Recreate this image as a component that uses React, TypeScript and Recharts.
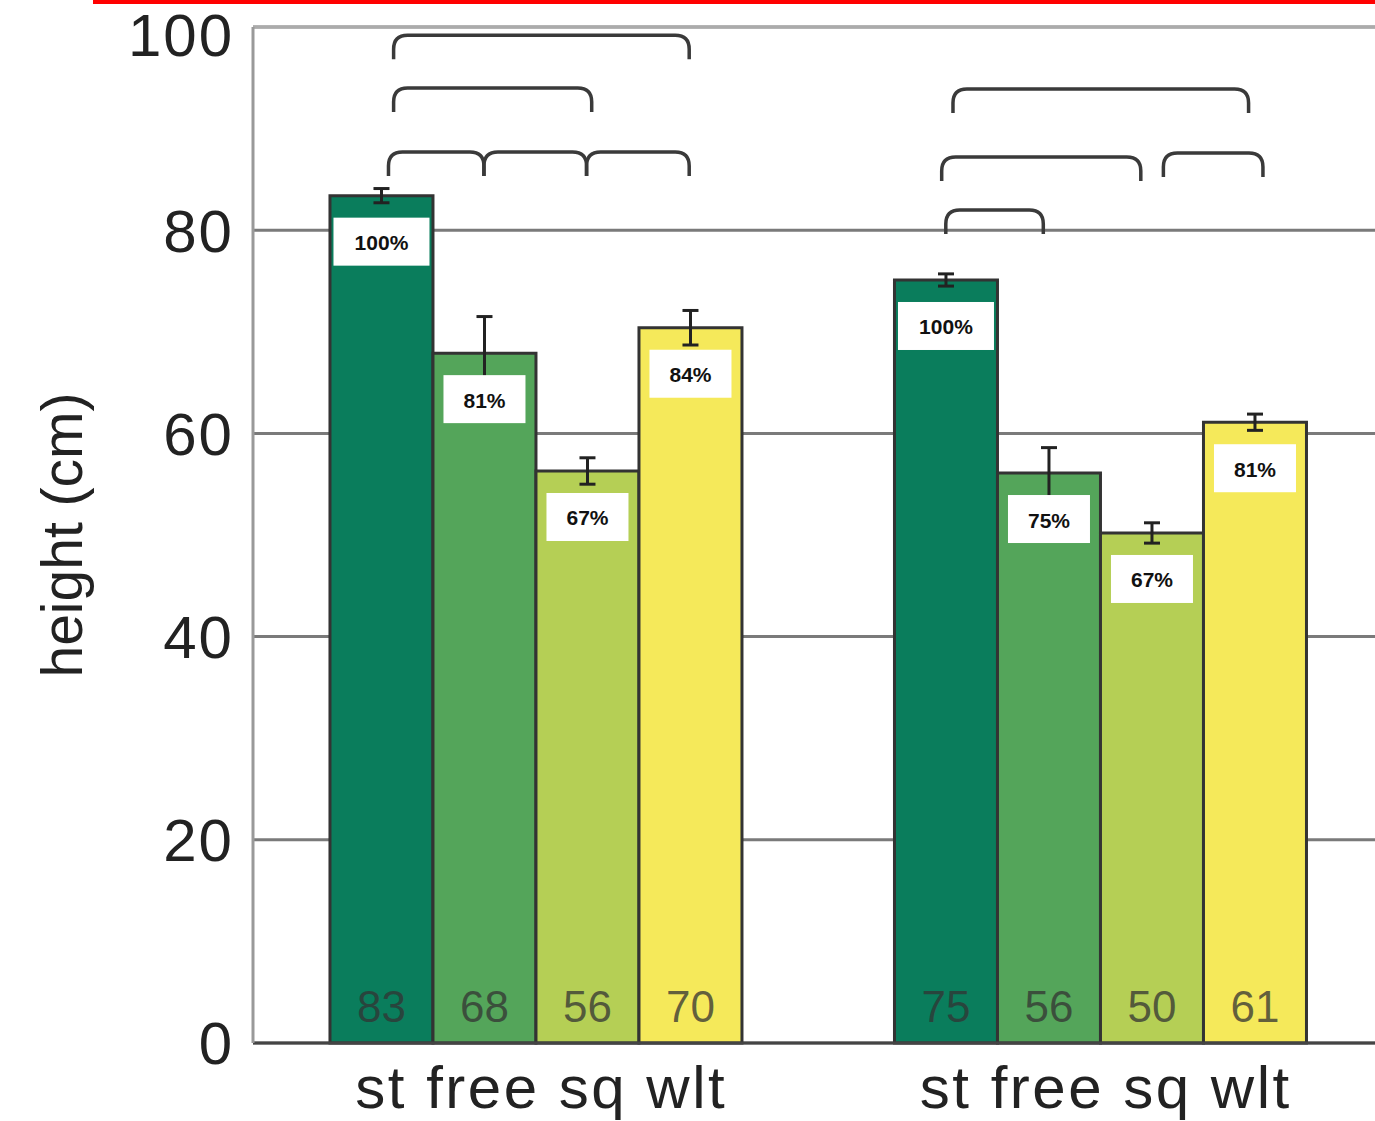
import { BarChart, Bar, XAxis, YAxis, CartesianGrid, ErrorBar, LabelList, ReferenceLine } from 'recharts';

const groupLabels = ['st free sq wlt', 'st free sq wlt'];
const treatments = ['st', 'free', 'sq', 'wlt'];

// mean height (cm) per group
const stHeight = [83.4, 75.1];
const freeHeight = [67.9, 56.1];
const sqHeight = [56.3, 50.2];
const wltHeight = [70.4, 61.1];

// error (± cm)
const stErr = [0.7, 0.6];
const freeErr = [3.6, 2.5];
const sqErr = [1.3, 1.0];
const wltErr = [1.7, 0.8];

// numbers printed at the bottom of the bars
const stShown = ['83', '75'];
const freeShown = ['68', '56'];
const sqShown = ['56', '50'];
const wltShown = ['70', '61'];

// relative to st
const stPct = ['100%', '100%'];
const freePct = ['81%', '75%'];
const sqPct = ['67%', '67%'];
const wltPct = ['84%', '81%'];

const yTicks = [0, 20, 40, 60, 80, 100];

// significance brackets: group, from/to bar index (0 = st .. 3 = wlt), height in cm
const brackets = [
  { group: 0, from: 0.12, to: 3.0, y: 99.2 },
  { group: 0, from: 0.12, to: 2.05, y: 94.0 },
  { group: 0, from: 0.07, to: 1.0, y: 87.7 },
  { group: 0, from: 1.0, to: 2.0, y: 87.7 },
  { group: 0, from: 2.0, to: 3.0, y: 87.7 },
  { group: 1, from: 0.07, to: 2.95, y: 93.9 },
  { group: 1, from: -0.04, to: 1.9, y: 87.2 },
  { group: 1, from: 2.12, to: 3.09, y: 87.6 },
  { group: 1, from: 0.0, to: 0.95, y: 82.0 },
];

const heights: Record<string, number[]> = { st: stHeight, free: freeHeight, sq: sqHeight, wlt: wltHeight };
const errs: Record<string, number[]> = { st: stErr, free: freeErr, sq: sqErr, wlt: wltErr };
const shown: Record<string, string[]> = { st: stShown, free: freeShown, sq: sqShown, wlt: wltShown };
const pcts: Record<string, string[]> = { st: stPct, free: freePct, sq: sqPct, wlt: wltPct };

const colors: Record<string, string> = {
  st: '#0a7d5c',
  free: '#54a55a',
  sq: '#b5cf55',
  wlt: '#f5e95a',
};

const FONT = '"Liberation Sans", Arial, Helvetica, sans-serif';

// gap on each side of a group, measured in bar widths
const SIDE_GAP = 0.75;
const GROUP_SPAN = treatments.length + 2 * SIDE_GAP;
const slotX = (group: number, idx: number) => group * GROUP_SPAN + SIDE_GAP + idx + 0.5;

const data = groupLabels.map((label, i) => {
  const row: Record<string, string | number> = { label, pos: slotX(i, 1.5) };
  treatments.forEach((t) => {
    row[t] = heights[t][i];
    row[`${t}Err`] = errs[t][i];
    row[`${t}Shown`] = shown[t][i];
    row[`${t}Pct`] = pcts[t][i];
  });
  return row;
});

const renderPct = (props: any) => {
  const x = Number(props.x);
  const y = Number(props.y);
  const width = Number(props.width);
  const value = String(props.value);
  const w = value.length > 3 ? 96 : 82;
  const cx = x + width / 2;
  const top = y + 22;
  return (
    <g>
      <rect x={cx - w / 2} y={top} width={w} height={48} fill="#ffffff" />
      <text
        x={cx}
        y={top + 25}
        textAnchor="middle"
        dominantBaseline="central"
        fontSize={21}
        fontWeight="bold"
        fontFamily={FONT}
        fill="#111"
      >
        {value}
      </text>
    </g>
  );
};

const renderShown = (props: any) => {
  const x = Number(props.x);
  const y = Number(props.y);
  const width = Number(props.width);
  const height = Number(props.height);
  return (
    <text
      x={x + width / 2}
      y={y + height - 37}
      textAnchor="middle"
      dominantBaseline="central"
      fontSize={44}
      fontFamily={FONT}
      fill="#333"
      fillOpacity={0.75}
    >
      {props.value}
    </text>
  );
};

const bracketShape = (props: any) => {
  const x1 = Number(props.x1);
  const y1 = Number(props.y1);
  const x2 = Number(props.x2);
  const r = 14;
  const drop = 24;
  const d = `M${x1},${y1 + drop} L${x1},${y1 + r} Q${x1},${y1} ${x1 + r},${y1} L${x2 - r},${y1} Q${x2},${y1} ${x2},${y1 + r} L${x2},${y1 + drop}`;
  return <path d={d} fill="none" stroke="#3a3a3a" strokeWidth={3.5} />;
};

export default function App() {
  return (
    <div
      style={{
        position: 'absolute',
        left: 0,
        top: 0,
        width: 1375,
        height: 1121,
        overflow: 'hidden',
        background: '#ffffff',
      }}
    >
      <div style={{ position: 'absolute', left: 93, top: 0, width: 1282, height: 4, background: '#ff0000', zIndex: 2 }} />
      <BarChart
        width={1400}
        height={1121}
        data={data}
        margin={{ top: 27, right: 18, left: 0, bottom: 48 }}
        barGap={0}
        barCategoryGap={`${(SIDE_GAP / GROUP_SPAN) * 100}%`}
      >
        <CartesianGrid vertical={false} stroke="#7a7a7a" strokeWidth={3} />
        <ReferenceLine y={100} stroke="#ababab" strokeWidth={3} ifOverflow="visible" />
        <XAxis
          tickFormatter={(i: number) => groupLabels[i]}
          height={30}
          tickLine={false}
          tickSize={0}
          tickMargin={22}
          axisLine={{ stroke: '#444', strokeWidth: 3 }}
          tick={{ fontSize: 60, fill: '#222', fontFamily: FONT, letterSpacing: 2.5, dx: 6 }}
        />
        <XAxis
          xAxisId="pos"
          dataKey="pos"
          type="number"
          domain={[0, groupLabels.length * GROUP_SPAN]}
          allowDataOverflow
          hide
        />
        <YAxis
          domain={[0, 100]}
          ticks={yTicks}
          width={253}
          tickLine={false}
          tickSize={0}
          tickMargin={19}
          axisLine={{ stroke: '#999', strokeWidth: 3 }}
          tick={{ fontSize: 60, fill: '#222', fontFamily: FONT, letterSpacing: 2 }}
          label={{
            value: 'height (cm)',
            angle: -90,
            position: 'insideLeft',
            offset: 62,
            style: { textAnchor: 'middle', fontSize: 57, fill: '#222', fontFamily: FONT },
          }}
        />
        {treatments.map((t) => (
          <Bar key={t} dataKey={t} fill={colors[t]} stroke="#333" strokeWidth={3} isAnimationActive={false}>
            <ErrorBar dataKey={`${t}Err`} width={8} strokeWidth={3} stroke="#222" direction="y" />
            <LabelList dataKey={`${t}Shown`} content={renderShown} />
            <LabelList dataKey={`${t}Pct`} content={renderPct} />
          </Bar>
        ))}
        {brackets.map((b, i) => (
          <ReferenceLine
            key={i}
            xAxisId="pos"
            ifOverflow="visible"
            stroke="#3a3a3a"
            strokeWidth={3.5}
            segment={[
              { x: slotX(b.group, b.from), y: b.y },
              { x: slotX(b.group, b.to), y: b.y },
            ]}
            shape={bracketShape}
          />
        ))}
      </BarChart>
    </div>
  );
}
